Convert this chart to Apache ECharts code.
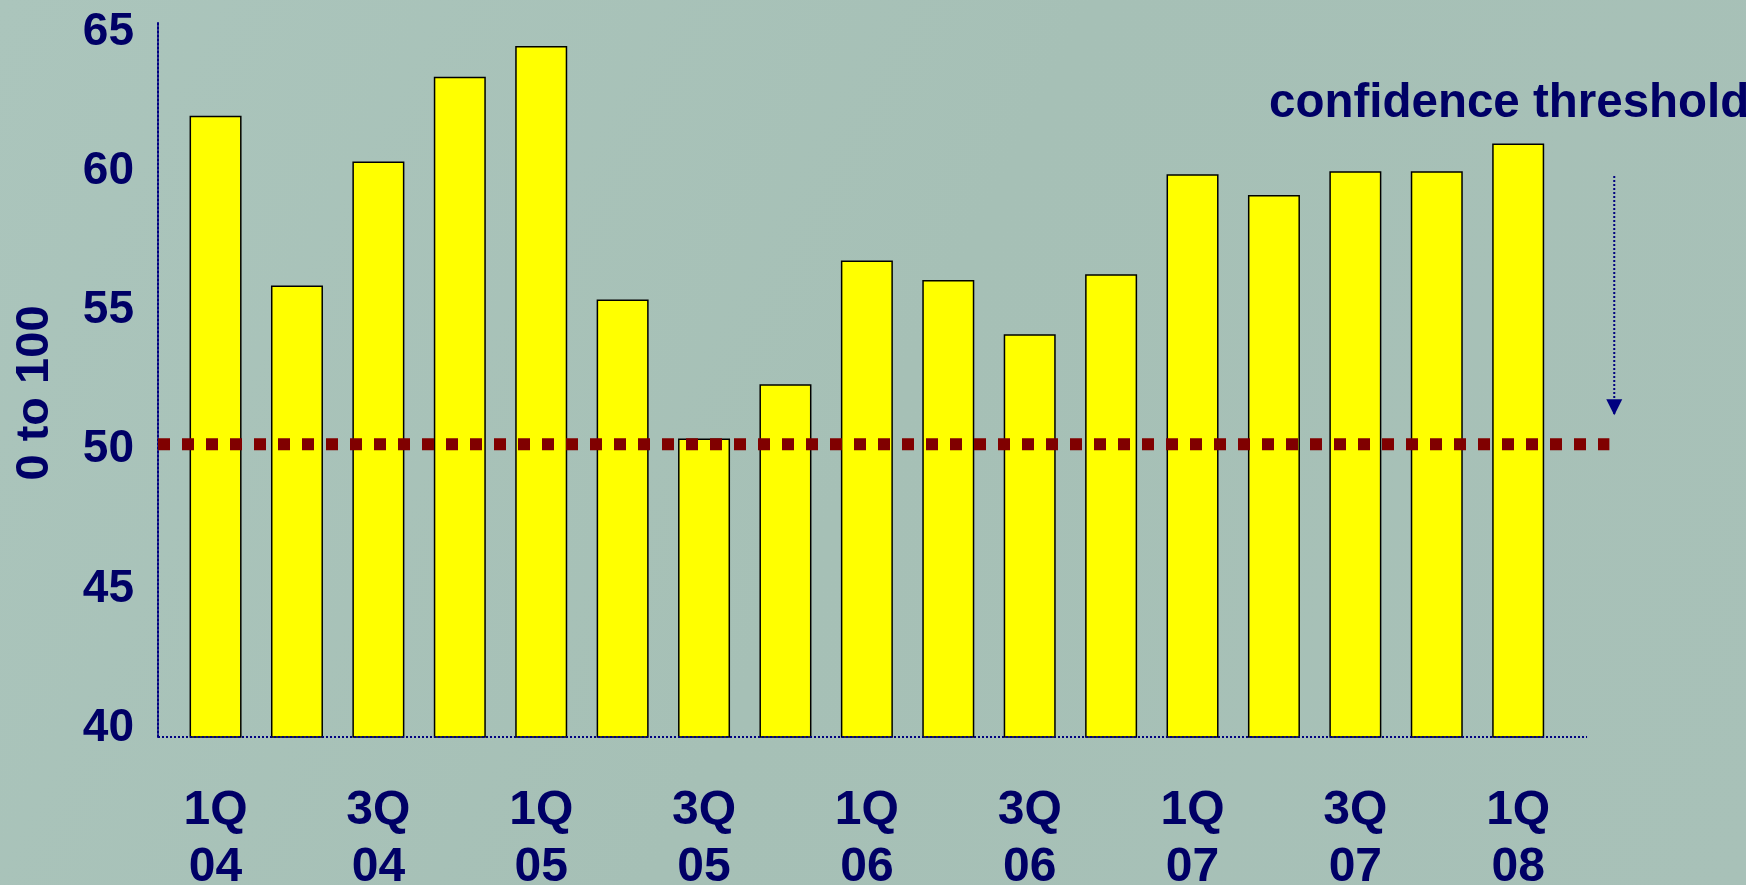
<!DOCTYPE html>
<html>
<head>
<meta charset="utf-8">
<title>confidence</title>
<script src="https://cdn.jsdelivr.net/npm/echarts@6/dist/echarts.min.js"></script>
<style>
  html,body{margin:0;padding:0;}
  #confidence-chart{width:1746px;height:885px;}
</style>
</head>
<body>
<div id="confidence-chart"></div>
<script>
  // quarters, one bar each
  const quarters = ['1Q\n04','2Q\n04','3Q\n04','4Q\n04','1Q\n05','2Q\n05','3Q\n05','4Q\n05',
    '1Q\n06','2Q\n06','3Q\n06','4Q\n06','1Q\n07','2Q\n07','3Q\n07','4Q\n07','1Q\n08'];
  // index values (scale 0 to 100)
  const confidence = [62.0, 55.9, 60.35, 63.4, 64.5, 55.4, 50.4, 52.35,
    56.8, 56.1, 54.15, 56.3, 59.9, 59.15, 60.0, 60.0, 61.0];
  // only every second quarter gets a label
  const labelIndexes = [0, 2, 4, 6, 8, 10, 12, 14, 16];
  const yTicks = [40, 45, 50, 55, 60, 65];
  // extent of the dotted base line
  const baseSpan = [-0.707, 16.846];
  const yMin = 39.68;
  // threshold line and arrow (data units)
  const threshold = 50.2;
  const thresholdSpan = [-0.707, 17.12];
  const arrowX = 17.18;
  const arrowFrom = 59.83;
  const arrowTo = 51.24;

  const navy = '#000066';
  const font = "'Liberation Sans', Arial, sans-serif";

  let chart = echarts.init(document.getElementById('confidence-chart'));

  let option = {
    backgroundColor: {
      type: 'linear', x: 0, y: 0, x2: 1, y2: 1,
      colorStops: [
        {offset: 0, color: '#abc5bc'},
        {offset: 0.5, color: '#a6c0b6'},
        {offset: 1, color: '#a8c1b8'}
      ]
    },
    animation: false,
    grid: {
      left: 158,
      right: 96,
      top: 23,
      bottom: 148,
      outerBoundsMode: 'none'
    },
    xAxis: {
      type: 'value',
      min: -0.707,
      max: 17.619,
      splitLine: {show: false},
      axisTick: {show: false},
      axisLine: {show: false},
      axisLabel: {
        customValues: labelIndexes,
        margin: 45,
        color: navy,
        fontFamily: font,
        fontWeight: 'bold',
        fontSize: 48,
        lineHeight: 57,
        formatter: (v) => quarters[Math.round(v)] || ''
      }
    },
    yAxis: {
      type: 'value',
      min: yMin,
      max: 65.33,
      splitLine: {show: false},
      axisTick: {show: false},
      axisLine: {
        show: true,
        onZero: false,
        lineStyle: {color: '#000080', type: 'dotted', width: 2}
      },
      axisLabel: {
        customValues: yTicks,
        margin: 24,
        padding: [7, 0, 0, 0],
        color: navy,
        fontFamily: font,
        fontWeight: 'bold',
        fontSize: 46
      }
    },
    graphic: [
      {
        type: 'text',
        x: 35,
        y: 393,
        rotation: Math.PI / 2,
        style: {
          text: '0 to 100',
          fill: navy,
          font: "bold 47px 'Liberation Sans', Arial, sans-serif",
          align: 'center',
          verticalAlign: 'middle'
        }
      },
      {
        type: 'text',
        x: 1269,
        y: 104,
        style: {
          text: 'confidence threshold',
          fill: navy,
          font: "bold 47.5px 'Liberation Sans', Arial, sans-serif",
          align: 'left',
          verticalAlign: 'middle'
        }
      }
    ],
    series: [
      {
        // dotted base line
        type: 'line',
        data: baseSpan.map((x) => [x, yMin]),
        symbol: 'none',
        clip: false,
        lineStyle: {color: '#000080', width: 2, type: 'dotted'}
      },
      {
        type: 'bar',
        data: confidence.map((v, i) => [i, v]),
        barWidth: 52,
        itemStyle: {
          color: '#ffff00',
          borderColor: '#000000',
          borderWidth: 1.5
        }
      },
      {
        // dashed confidence threshold
        type: 'line',
        data: thresholdSpan.map((x) => [x, threshold]),
        symbol: 'none',
        clip: false,
        z: 5,
        lineStyle: {
          color: '#800000',
          width: 12,
          type: [12, 12],
          cap: 'butt'
        }
      },
      {
        // dotted arrow pointing to the threshold
        type: 'line',
        clip: false,
        z: 5,
        data: [
          {value: [arrowX, arrowFrom], symbol: 'none'},
          {value: [arrowX, arrowTo], symbol: 'triangle', symbolSize: [16, 16], symbolRotate: 180, symbolOffset: [0, -8]}
        ],
        showSymbol: true,
        itemStyle: {color: '#000080'},
        lineStyle: {color: '#000080', width: 2, type: 'dotted'}
      }
    ]
  };
  chart.setOption(option, true);
</script>
</body>
</html>
